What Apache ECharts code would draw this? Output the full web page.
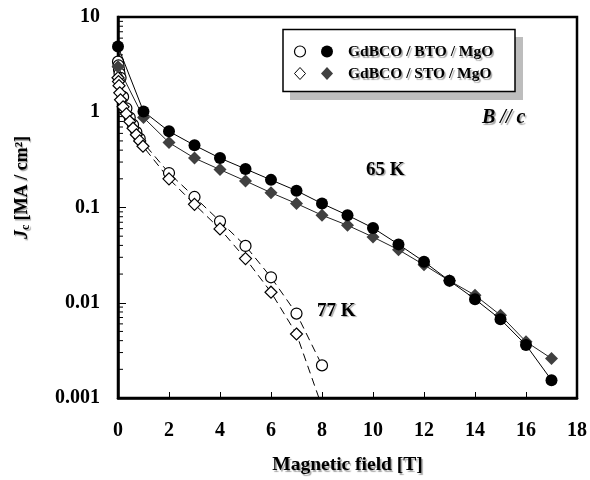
<!DOCTYPE html>
<html><head><meta charset="utf-8">
<script src="https://cdn.jsdelivr.net/npm/echarts@6/dist/echarts.min.js"></script>
<style>html,body{margin:0;padding:0;background:#fff}#c{width:590px;height:480px}</style>
</head><body><div id="c"></div>
<script>
// Magnetic field [T] and Jc [MA/cm2]
var bto65 = [[0,4.9],[1,1.02],[2,0.63],[3,0.45],[4,0.33],[5,0.254],[6,0.195],[7,0.15],[8,0.11],[9,0.083],[10,0.061],[11,0.041],[12,0.027],[13,0.017],[14,0.0109],[15,0.0067],[16,0.0036],[17,0.00154]];
var sto65 = [[0,3.0],[1,0.88],[2,0.48],[3,0.33],[4,0.25],[5,0.19],[6,0.143],[7,0.11],[8,0.083],[9,0.065],[10,0.049],[11,0.036],[12,0.025],[13,0.017],[14,0.012],[15,0.0074],[16,0.0039],[17,0.0026]];
var bto77 = [[0,3.4],[0.02,3.1],[0.04,2.8],[0.06,2.55],[0.1,2.3],[0.2,1.45],[0.33,1.1],[0.46,0.88],[0.59,0.74],[0.72,0.62],[0.85,0.53],[2,0.23],[3,0.129],[4,0.0716],[5,0.0395],[6,0.0185],[7,0.0077],[8,0.0022]];
var sto77 = [[0,2.3],[0.02,2.1],[0.04,1.9],[0.07,1.6],[0.1,1.35],[0.2,1.14],[0.33,0.96],[0.46,0.80],[0.59,0.68],[0.72,0.58],[0.85,0.50],[0.98,0.44],[2,0.2],[3,0.108],[4,0.0596],[5,0.0291],[6,0.0129],[7,0.0047]];
var sto77Trend = [[7.88,0.001]];
var xTicks = [0,2,4,6,8,10,12,14,16,18];
var yTickLabels = ['0.001','0.01','0.1','1','10'];
var yMinorTicks = [0.002,0.003,0.004,0.005,0.006,0.007,0.008,0.009,0.02,0.03,0.04,0.05,0.06,0.07,0.08,0.09,0.2,0.3,0.4,0.5,0.6,0.7,0.8,0.9,2,3,4,5,6,7,8,9];
var legendNames = ['GdBCO / BTO / MgO','GdBCO / STO / MgO'];
var annotations = ['65 K','77 K','B // c'];

var FONT = '"Liberation Serif","DejaVu Serif",serif';
var chart = echarts.init(document.getElementById('c'));
var sh = {textShadowColor:'rgba(0,0,0,0.35)',textShadowOffsetX:1.5,textShadowOffsetY:1.5,textShadowBlur:1};

chart.setOption({
  animation:false,
  backgroundColor:'#fff',
  grid:{left:118,right:12,top:17,bottom:79,show:true,borderColor:'#000',borderWidth:2.5,backgroundColor:'transparent'},
  xAxis:{type:'value',min:xTicks[0],max:xTicks[xTicks.length-1],interval:2,
    name:'Magnetic field [T]',nameLocation:'middle',nameGap:57,
    nameTextStyle:Object.assign({fontFamily:FONT,fontWeight:'bold',fontSize:19.5,color:'#000'},sh),
    axisLine:{show:true,lineStyle:{color:'#000',width:2.5}},
    axisTick:{show:true,inside:true,length:6,lineStyle:{color:'#000',width:1}},
    axisLabel:{fontFamily:FONT,fontWeight:'bold',fontSize:20,color:'#000',margin:23},
    splitLine:{show:false}},
  yAxis:{type:'log',logBase:10,min:0.001,max:10,
    name:'{i|J}{s|c}{n| [MA / cm²]}',nameLocation:'middle',nameGap:86,nameRotate:90,
    nameTextStyle:{padding:[0,0,0,40],rich:{
      i:Object.assign({fontFamily:FONT,fontWeight:'bold',fontStyle:'italic',fontSize:18,color:'#000'},sh),
      s:Object.assign({fontFamily:FONT,fontWeight:'bold',fontSize:12,color:'#000',padding:[8,0,0,0]},sh),
      n:Object.assign({fontFamily:FONT,fontWeight:'bold',fontSize:18,color:'#000'},sh)}},
    axisLine:{show:true,lineStyle:{color:'#000',width:2.5}},
    axisTick:{show:true,inside:true,length:8,lineStyle:{color:'#000',width:1}},
    axisLabel:{fontFamily:FONT,fontWeight:'bold',fontSize:20,color:'#000',margin:18,
      formatter:function(v){var l=Math.round(Math.log10(v))+3;return yTickLabels[l]||'';}},
    splitLine:{show:false}},
  series:[
    {type:'custom',data:yMinorTicks.map(function(v){return [0,v];}),silent:true,z:1,
      renderItem:function(params,api){var p=api.coord([0,api.value(1)]);
        return {type:'line',shape:{x1:p[0],y1:p[1],x2:p[0]+5,y2:p[1]},style:{stroke:'#000',lineWidth:1}};}},
    {type:'line',data:bto77,symbol:'circle',symbolSize:11,
      itemStyle:{color:'#fff',borderColor:'#000',borderWidth:1.2},
      lineStyle:{color:'#000',width:1,type:[8,5]},z:3},
    {type:'line',data:sto77.map(function(d){return d;}).concat(sto77Trend.map(function(d){return {value:d,symbolSize:0};})),
      symbol:'diamond',symbolSize:12,
      itemStyle:{color:'#fff',borderColor:'#000',borderWidth:1.2},
      lineStyle:{color:'#000',width:1,type:[8,5]},z:3},
    {type:'line',data:sto65,symbol:'diamond',symbolSize:13,
      itemStyle:{color:'#404040',borderColor:'#404040',borderWidth:0},
      lineStyle:{color:'#222',width:1},z:4},
    {type:'line',data:bto65,symbol:'circle',symbolSize:12,
      itemStyle:{color:'#000'},
      lineStyle:{color:'#000',width:1},z:5}
  ],
  graphic:[
    {type:'rect',shape:{x:290,y:37,width:233,height:63},style:{fill:'#bdbdbd'},z:10},
    {type:'rect',shape:{x:283,y:29.5,width:232,height:62},style:{fill:'#fff',stroke:'#000',lineWidth:1.5},z:11},
    {type:'circle',shape:{cx:300,cy:51.5,r:5.5},style:{fill:'#fff',stroke:'#000',lineWidth:1.2},z:12},
    {type:'circle',shape:{cx:327,cy:51.5,r:6},style:{fill:'#000'},z:12},
    {type:'polygon',shape:{points:[[300,67.5],[305.5,73.5],[300,79.5],[294.5,73.5]]},style:{fill:'#fff',stroke:'#000',lineWidth:1},z:12},
    {type:'polygon',shape:{points:[[327,67],[333,73.5],[327,80],[321,73.5]]},style:{fill:'#404040'},z:12},
    {type:'text',x:348,y:52,style:Object.assign({text:legendNames[0],font:'bold 15.5px '+FONT,fill:'#000',verticalAlign:'middle'},sh),z:12},
    {type:'text',x:348,y:74,style:Object.assign({text:legendNames[1],font:'bold 15.5px '+FONT,fill:'#000',verticalAlign:'middle'},sh),z:12},
    {type:'text',x:482,y:118,style:Object.assign({text:annotations[2],font:'italic bold 20px '+FONT,fill:'#000',verticalAlign:'middle'},sh),z:12},
    {type:'text',x:366,y:170,style:Object.assign({text:annotations[0],font:'bold 19px '+FONT,fill:'#000',verticalAlign:'middle'},sh),z:12},
    {type:'text',x:317,y:311,style:Object.assign({text:annotations[1],font:'bold 19px '+FONT,fill:'#000',verticalAlign:'middle'},sh),z:12}
  ]
});
</script></body></html>
